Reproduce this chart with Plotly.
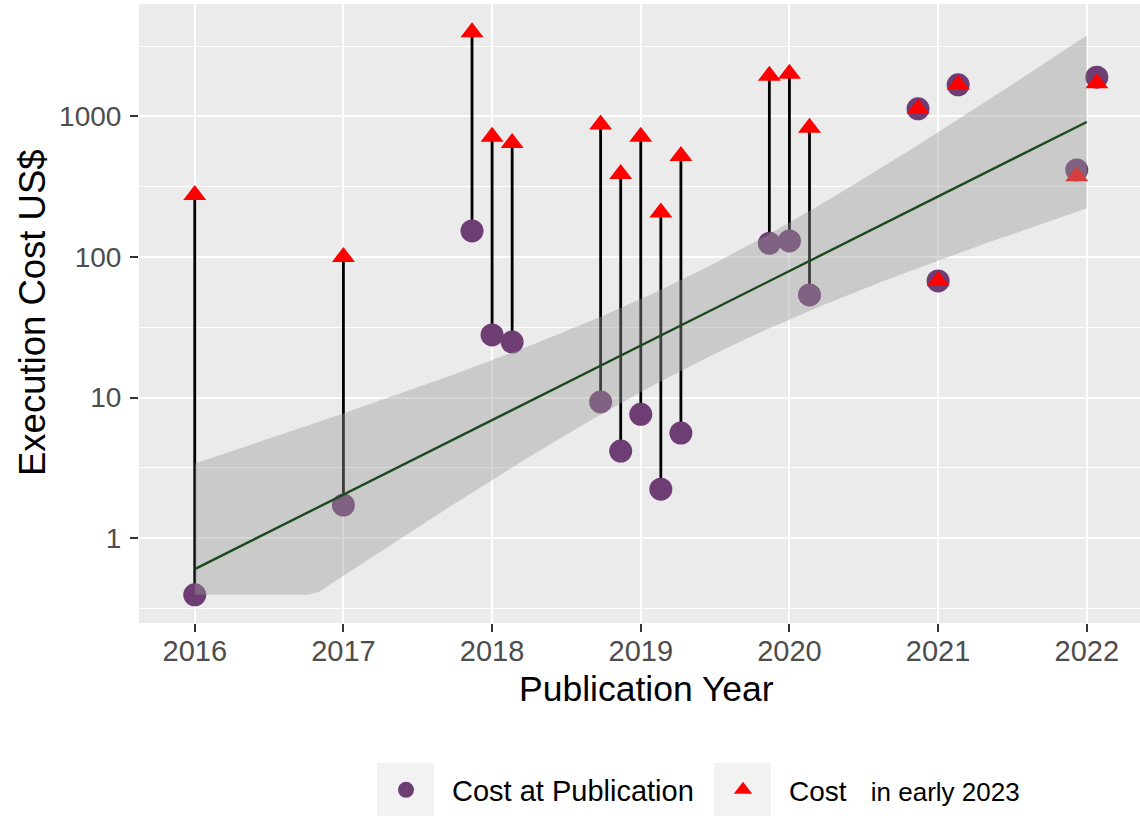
import numpy as np
import plotly.graph_objects as go

# ---------------- data ----------------
pub_year = [2016, 2017, 2018, 2018, 2018, 2019, 2019, 2019, 2019, 2019,
            2020, 2020, 2020, 2021, 2021, 2021, 2022, 2022]
cost_at_publication = [0.395, 1.72, 153, 27.9, 24.8, 9.3, 4.16, 7.6, 2.23, 5.59,
                       125, 130, 53.7, 1130, 67.5, 1676, 416, 1900]
cost_early_2023 = [276, 100, 3970, 717, 646, 875, 389, 717, 207, 523,
                   1942, 2011, 831, 1130, 67.5, 1676, 375, 1716]
year_ticks = [2016, 2017, 2018, 2019, 2020, 2021, 2022]
cost_ticks = [1, 10, 100, 1000]
cost_tick_labels = ["1", "10", "100", "1000"]

# ---------------- style ----------------
FONT = "Liberation Sans, Arial, Helvetica, sans-serif"
PURPLE = "#6E3D73"
RED = "#FF0000"
GREEN = "#1B4A1E"
RIBBON = "rgba(153,153,153,0.4)"
PANEL = "#EBEBEB"
DODGE = 0.135          # horizontal dodge spacing between papers of the same year
T975_DF16 = 2.119905   # t quantile (0.975, df = n - 2 = 16)

W, H = 1140, 816
ML, MR, MT, MB = 139, 0, 4, 193

# dodge positions within each year
yrs = np.array(pub_year, dtype=float)
xpos = np.empty_like(yrs)
for y in np.unique(yrs):
    idx = np.where(yrs == y)[0]
    n = len(idx)
    for k, i in enumerate(idx):
        xpos[i] = y + (k - (n - 1) / 2) * DODGE

cp = np.array(cost_at_publication, dtype=float)
c23 = np.array(cost_early_2023, dtype=float)

# linear fit of log10(cost at publication) on year, with 95% CI (like geom_smooth(method="lm"))
ly = np.log10(cp)
n = len(yrs)
xm = yrs.mean()
sxx = ((yrs - xm) ** 2).sum()
slope = ((yrs - xm) * (ly - ly.mean())).sum() / sxx
icpt = ly.mean() - slope * xm
resid = ly - (icpt + slope * yrs)
s = np.sqrt((resid ** 2).sum() / (n - 2))
grid = np.linspace(yrs.min(), yrs.max(), 80)
pred = icpt + slope * grid
se = s * np.sqrt(1 / n + (grid - xm) ** 2 / sxx)
all_log = np.log10(np.concatenate([cp, c23]))
lo_lim, hi_lim = all_log.min(), all_log.max()
upper = np.clip(pred + T975_DF16 * se, lo_lim, hi_lim)
lower = np.clip(pred - T975_DF16 * se, lo_lim, hi_lim)
span = hi_lim - lo_lim
yrange = [lo_lim - 0.05 * span, hi_lim + 0.05 * span]

fig = go.Figure()

# segments from publication cost to 2023 cost
sx, sy = [], []
for x0, a, b in zip(xpos, cp, c23):
    sx += [x0, x0, None]
    sy += [a, b, None]
fig.add_trace(go.Scatter(x=sx, y=sy, mode="lines", line=dict(color="black", width=2.8),
                         showlegend=False, hoverinfo="skip"))

fig.add_trace(go.Scatter(x=xpos, y=cp, mode="markers", name="Cost at Publication",
                         marker=dict(symbol="circle", size=23, color=PURPLE)))
fig.add_trace(go.Scatter(x=xpos, y=c23, mode="markers",
                         name="<span style='font-size:28px'>Cost</span>\u00a0\u00a0\u00a0"
                              "<span style='font-size:26px'>in early 2023</span>",
                         marker=dict(symbol="triangle-up", size=20, color=RED)))

# confidence ribbon
fig.add_trace(go.Scatter(x=np.concatenate([grid, grid[::-1]]),
                         y=10 ** np.concatenate([upper, lower[::-1]]),
                         mode="lines", fill="toself", fillcolor=RIBBON,
                         line=dict(width=0), showlegend=False, hoverinfo="skip"))
# regression line
fig.add_trace(go.Scatter(x=grid, y=10 ** pred, mode="lines",
                         line=dict(color=GREEN, width=2.4),
                         showlegend=False, hoverinfo="skip"))

def px_x(x):
    return (x - ML) / (W - ML - MR)

def px_y(y):
    return (H - MB - y) / (H - MT - MB)

# grey legend keys (ggplot legend.key)
for x0, x1 in [(377, 434), (714, 771)]:
    fig.add_shape(type="rect", xref="paper", yref="paper",
                  x0=px_x(x0), x1=px_x(x1), y0=px_y(816), y1=px_y(763),
                  fillcolor="#F2F2F2", line=dict(width=0), layer="below")

fig.update_layout(
    width=W, height=H,
    margin=dict(l=ML, r=MR, t=MT, b=MB, pad=0),
    paper_bgcolor="white", plot_bgcolor=PANEL,
    font=dict(family=FONT, color="black"),
    showlegend=True,
    legend=dict(orientation="h", x=px_x(360), y=px_y(790), xanchor="left", yanchor="middle",
                font=dict(size=29, color="black", family=FONT), bgcolor="rgba(0,0,0,0)",
                itemwidth=82, traceorder="normal", entrywidth=240, entrywidthmode="pixels"),
    annotations=[
        dict(text="Publication Year", xref="paper", yref="paper", x=px_x(646), y=px_y(689),
             xanchor="center", yanchor="middle", showarrow=False,
             font=dict(size=35.5, color="black", family=FONT)),
        dict(text="Execution Cost US$", xref="paper", yref="paper", x=px_x(32), y=px_y(313),
             xanchor="center", yanchor="middle", showarrow=False, textangle=-90,
             font=dict(size=36.5, color="black", family=FONT)),
    ],
)

fig.update_xaxes(range=[2015.625, 2015.625 + (W - ML - MR) / 148.67],
                 tickmode="array", tickvals=year_ticks, ticktext=[str(v) for v in year_ticks],
                 showgrid=True, gridcolor="white", gridwidth=2.2, zeroline=False,
                 showline=False, ticks="outside", ticklen=8, tickwidth=2.4, tickcolor="#333333",
                 ticklabelstandoff=-6,
                 tickfont=dict(size=29, color="#4D4D4D", family=FONT))

fig.update_yaxes(type="log", range=yrange,
                 tickmode="array", tickvals=cost_ticks, ticktext=cost_tick_labels,
                 showgrid=True, gridcolor="white", gridwidth=2.2, zeroline=False,
                 showline=False, ticks="outside", ticklen=8, tickwidth=2.4, tickcolor="#333333",
                 ticklabelstandoff=3,
                 tickfont=dict(size=28, color="#4D4D4D", family=FONT),
                 minor=dict(tickmode="array", tickvals=[10 ** (k + 0.5) for k in range(-1, 4)],
                            showgrid=True, gridcolor="white", gridwidth=1.1, ticks=""))

fig.write_html("out.html", config={"displayModeBar": False},
               post_script="document.body.style.margin='0';")
